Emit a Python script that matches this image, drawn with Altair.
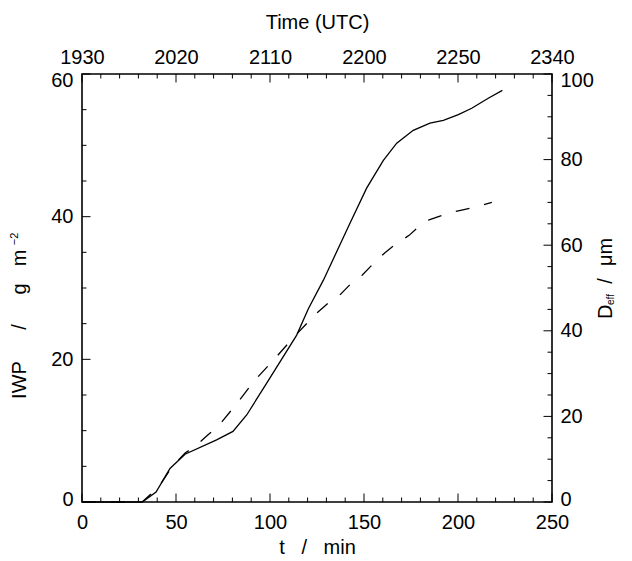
import altair as alt
import pandas as pd

# ---------------- data ----------------
t_iwp = [0, 32, 39.4, 46.8, 54.8, 71.6, 80.3, 87.6, 100, 114.2, 120.4, 128.4,
         142.6, 151.4, 160.3, 167.4, 176.2, 185.1, 192.2, 200.2, 207.3, 216.1, 223.6]
iwp = [0, 0, 1.4, 4.7, 6.7, 8.7, 9.9, 12.2, 17.4, 23.4, 27.1, 31.1,
       39.1, 44.0, 47.9, 50.3, 52.1, 53.1, 53.5, 54.3, 55.2, 56.6, 57.7]

t_deff = [0, 32, 38, 42, 48, 55, 60, 66, 73, 82, 92, 103, 113, 125, 131, 137,
          143, 149, 155, 161, 167, 174, 180, 185, 195, 202, 210, 218]
deff = [0, 0, 2.4, 4.3, 8.3, 11.5, 12.9, 15.3, 18.0, 22.8, 28.5, 33.7, 38.7,
        44.2, 46.5, 48.3, 51.0, 53.0, 55.7, 58.2, 60.3, 62.3, 64.7, 66.0,
        67.5, 68.2, 69.0, 70.0]

x_major = [0, 50, 100, 150, 200, 250]
x_minor = [v for v in range(0, 251, 10) if v % 50 != 0]
time_labels = ["1930", "2020", "2110", "2200", "2250", "2340"]
yl_major = [0, 20, 40, 60]
yl_minor = [v for v in range(0, 61, 5) if v % 20 != 0]
yr_major = [0, 20, 40, 60, 80, 100]
yr_minor = [v for v in range(0, 101, 5) if v % 20 != 0]

# ---------------- style ----------------
W, H = 470, 428
L, T = 82, 74
FONT = "Liberation Sans"
FS = 20
MAJ, MIN = 8.5, 4.5
NB = "\u00a0"

xs = alt.Scale(domain=[0, 250], nice=False, zero=False)
yls = alt.Scale(domain=[0, 60], nice=False)
yrs = alt.Scale(domain=[0, 100], nice=False)

df_iwp = pd.DataFrame({"t": t_iwp, "v": iwp})
df_deff = pd.DataFrame({"t": t_deff, "v": deff})
df_xmaj = pd.DataFrame({"t": x_major})
df_xmin = pd.DataFrame({"t": x_minor})
df_ylmaj = pd.DataFrame({"v": yl_major})
df_ylmin = pd.DataFrame({"v": yl_minor})
df_yrmaj = pd.DataFrame({"v": yr_major})
df_yrmin = pd.DataFrame({"v": yr_minor})

lab = dict(ticks=False, domain=False, grid=False, labelFont=FONT, labelFontSize=FS,
           labelColor="black", labelFlush=False, labelOverlap=False,
           titleFont=FONT, titleFontSize=FS, titleColor="black", titleFontWeight="normal")

top_expr = " : ".join(
    [f"datum.value == {v} ? '{s}'" for v, s in zip(x_major, time_labels)]) + " : ''"


def end_offsets(top_value):
    return {"condition": [{"test": f"datum.value == {top_value}", "value": 6},
                          {"test": "datum.value == 0", "value": -3}],
            "value": 0}


ax_bottom = alt.Axis(orient="bottom", values=x_major, labelPadding=10, labelBaseline="top",
                     title=f"t{NB}{NB}{NB}/{NB}{NB}{NB}min", titleX=W / 2, titleY=51,
                     titleBaseline="alphabetic", titleAlign="center", **lab)
ax_left = alt.Axis(orient="left", values=yl_major, labelPadding=9, labelBaseline="middle",
                   labelOffset=end_offsets(yl_major[-1]), title="", **lab)
ax_top = alt.Axis(orient="top", values=x_major, labelPadding=7, labelExpr=top_expr,
                  title=f"Time{NB}(UTC)", titleX=W / 2, titleY=-46,
                  titleBaseline="alphabetic", titleAlign="center", **lab)
ax_right = alt.Axis(orient="right", values=yr_major, labelPadding=8, labelBaseline="middle",
                    labelOffset=end_offsets(yr_major[-1]), title="", **lab)


def xticks(df, top, ln, ax):
    y0, y1 = (0, ln) if top else (H, H - ln)
    return alt.Chart(df).mark_rule(color="black", strokeWidth=1).encode(
        x=alt.X("t:Q", scale=xs, axis=ax), y=alt.value(y0), y2=alt.value(y1))


def yticks(df, sc, right, ln, ax):
    x0, x1 = (W, W - ln) if right else (0, ln)
    return alt.Chart(df).mark_rule(color="black", strokeWidth=1).encode(
        y=alt.Y("v:Q", scale=sc, axis=ax), x=alt.value(x0), x2=alt.value(x1))


one = pd.DataFrame({"a": [0]})


def label(text, x, y, size=FS, align="center"):
    """Rotated (270 deg) piece of an axis title, placed in page pixels."""
    return alt.Chart(one).mark_text(text=text, font=FONT, fontSize=size, angle=270,
                                    align=align, baseline="alphabetic", color="black").encode(
        x=alt.value(x - L), y=alt.value(y - T))


# ---- left group: IWP (solid), bottom axis, left axis ----
solid = alt.Chart(df_iwp).mark_line(color="black", strokeWidth=1.3).encode(
    x=alt.X("t:Q", scale=xs, axis=ax_bottom),
    y=alt.Y("v:Q", scale=yls, axis=ax_left),
)
left_title = [
    label("IWP", 26, 380),
    label("/", 26, 327),
    label("g", 26, 289),
    label("m", 26, 258),
    label("−2", 18, 239, size=11),
]
left_group = alt.layer(
    solid,
    xticks(df_xmaj, False, MAJ, ax_bottom), xticks(df_xmin, False, MIN, ax_bottom),
    yticks(df_ylmaj, yls, False, MAJ, ax_left), yticks(df_ylmin, yls, False, MIN, ax_left),
    *left_title,
)

# ---- right group: D_eff (dashed), top axis, right axis ----
dashed = alt.Chart(df_deff).mark_line(color="black", strokeWidth=1.3, strokeDash=[14, 15]).encode(
    x=alt.X("t:Q", scale=xs, axis=ax_top),
    y=alt.Y("v:Q", scale=yrs, axis=ax_right),
)
right_title = [
    label("D", 612, 319, align="left"),
    label("eff", 614, 305, size=10, align="left"),
    label("/", 612, 281),
    label("μm", 612, 252),
]
right_group = alt.layer(
    dashed,
    xticks(df_xmaj, True, MAJ, ax_top), xticks(df_xmin, True, MIN, ax_top),
    yticks(df_yrmaj, yrs, True, MAJ, ax_right), yticks(df_yrmin, yrs, True, MIN, ax_right),
    *right_title,
)

chart = alt.layer(left_group, right_group).resolve_scale(
    x="independent", y="independent"
).properties(
    width=W, height=H,
    padding={"left": L, "top": T, "right": 632 - L - W, "bottom": 561 - T - H},
    autosize=alt.AutoSizeParams(type="none"),
    background="white",
).configure_view(stroke="black", strokeWidth=1.6)

chart.save("out.html", embed_options={"renderer": "svg", "actions": False})
